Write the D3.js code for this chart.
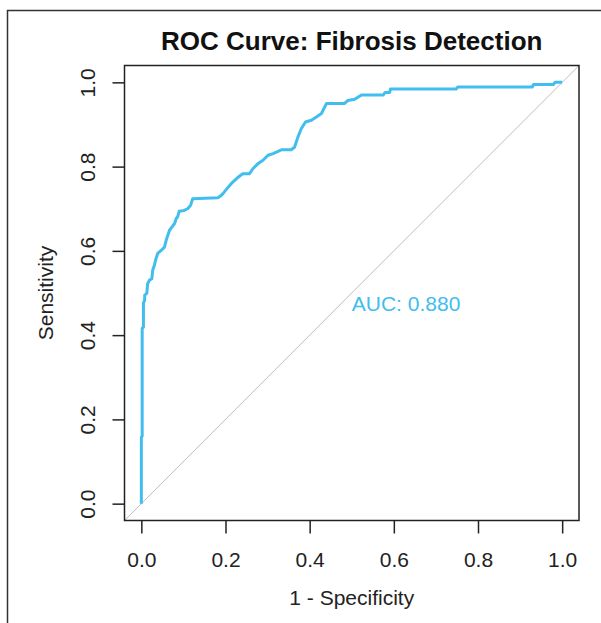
<!DOCTYPE html>
<html>
<head>
<meta charset="utf-8">
<script src="https://cdn.jsdelivr.net/npm/d3@7"></script>
<style>
  html, body { margin: 0; padding: 0; background: #fff; }
  svg { display: block; }
</style>
</head>
<body>
<div id="chart"></div>
<script>
// ROC points (1 - specificity, sensitivity)
const fpr = [0, 0, 0.002, 0.002, 0.005, 0.005, 0.008, 0.008, 0.013, 0.015, 0.019, 0.025,
  0.027, 0.031, 0.035, 0.039, 0.047, 0.055, 0.059, 0.063, 0.067, 0.073, 0.079, 0.083,
  0.086, 0.090, 0.102, 0.110, 0.117, 0.122, 0.182, 0.188, 0.194, 0.202, 0.214, 0.229,
  0.241, 0.257, 0.265, 0.277, 0.289, 0.301, 0.313, 0.325, 0.333, 0.356, 0.364, 0.372,
  0.380, 0.390, 0.404, 0.416, 0.428, 0.440, 0.483, 0.491, 0.507, 0.523, 0.575, 0.579,
  0.590, 0.592, 0.748, 0.752, 0.929, 0.932, 0.979, 0.983, 1.0];
const tpr = [0, 0.158, 0.160, 0.416, 0.419, 0.476, 0.483, 0.495, 0.499, 0.522, 0.530, 0.534,
  0.554, 0.566, 0.582, 0.594, 0.601, 0.609, 0.625, 0.637, 0.649, 0.657, 0.665, 0.677,
  0.680, 0.694, 0.696, 0.700, 0.708, 0.724, 0.726, 0.730, 0.736, 0.746, 0.760, 0.774,
  0.783, 0.783, 0.795, 0.807, 0.815, 0.827, 0.831, 0.836, 0.840, 0.840, 0.846, 0.870,
  0.890, 0.906, 0.910, 0.918, 0.926, 0.950, 0.950, 0.957, 0.960, 0.970, 0.970, 0.976,
  0.976, 0.984, 0.984, 0.989, 0.989, 0.995, 0.995, 1.0, 1.0];

const xTicks = [0, 0.2, 0.4, 0.6, 0.8, 1.0];
const yTicks = [0, 0.2, 0.4, 0.6, 0.8, 1.0];
const aucValue = 0.880;

const titleText = "ROC Curve: Fibrosis Detection";
const xLabel = "1 - Specificity";
const yLabel = "Sensitivity";

const W = 601, H = 623;
const font = "'Liberation Sans', Arial, sans-serif";
const curveColor = "#41bdee";

// plot box (R-style 4% padding around 0..1)
const box = { left: 124.5, right: 579, top: 65.5, bottom: 520.5 };

const svg = d3.select("#chart").append("svg")
  .attr("width", W)
  .attr("height", H)
  .style("font-family", font);

// outer frame, runs off the right/bottom edges
svg.append("rect")
  .attr("x", 7.5).attr("y", 10.5)
  .attr("width", 700).attr("height", 700)
  .attr("fill", "none")
  .attr("stroke", "#333")
  .attr("stroke-width", 1.5);

const x = d3.scaleLinear().domain([-0.04, 1.04]).range([box.left, box.right]);
const y = d3.scaleLinear().domain([-0.04, 1.04]).range([box.bottom, box.top]);

// reference diagonal across the whole box
svg.append("line")
  .attr("x1", x(-0.04)).attr("y1", y(-0.04))
  .attr("x2", x(1.04)).attr("y2", y(1.04))
  .attr("stroke", "#bdbdbd")
  .attr("stroke-width", 1);

// ROC curve
const pts = fpr.map((f, i) => [f, tpr[i]]);
svg.append("path")
  .datum(pts)
  .attr("fill", "none")
  .attr("stroke", curveColor)
  .attr("stroke-width", 3)
  .attr("stroke-linejoin", "round")
  .attr("d", d3.line().x(d => x(d[0])).y(d => y(d[1])));

// box
svg.append("rect")
  .attr("x", box.left).attr("y", box.top)
  .attr("width", box.right - box.left)
  .attr("height", box.bottom - box.top)
  .attr("fill", "none")
  .attr("stroke", "#222")
  .attr("stroke-width", 1.5);

// x axis
const gx = svg.append("g")
  .attr("transform", `translate(0,${box.bottom})`)
  .call(d3.axisBottom(x).tickValues(xTicks).tickSize(13).tickFormat(d3.format(".1f")));
gx.select(".domain").remove();
gx.selectAll(".tick line").attr("stroke", "#222").attr("stroke-width", 1.5);
gx.selectAll(".tick text")
  .attr("y", 46).attr("dy", null)
  .attr("fill", "#222")
  .style("font-size", "21px")
  .style("font-family", font);

// y axis, labels rotated like base R
const gy = svg.append("g")
  .attr("transform", `translate(${box.left},0)`)
  .call(d3.axisLeft(y).tickValues(yTicks).tickSize(12).tickFormat(d3.format(".1f")));
gy.select(".domain").remove();
gy.selectAll(".tick line").attr("stroke", "#222").attr("stroke-width", 1.5);
gy.selectAll(".tick text")
  .attr("x", null).attr("dy", null)
  .attr("transform", "translate(-29.5,0) rotate(-90)")
  .attr("text-anchor", "middle")
  .attr("fill", "#222")
  .style("font-size", "21px")
  .style("font-family", font);

const cx = (box.left + box.right) / 2;
const cy = (box.top + box.bottom) / 2;

// title
svg.append("text")
  .attr("x", cx).attr("y", 50)
  .attr("text-anchor", "middle")
  .attr("font-weight", "bold")
  .attr("font-size", 26)
  .attr("fill", "#111")
  .text(titleText);

// axis titles
svg.append("text")
  .attr("x", cx).attr("y", 605)
  .attr("text-anchor", "middle")
  .attr("font-size", 21)
  .attr("fill", "#222")
  .text(xLabel);

svg.append("text")
  .attr("transform", `translate(53,${cy}) rotate(-90)`)
  .attr("text-anchor", "middle")
  .attr("font-size", 21)
  .attr("fill", "#222")
  .text(yLabel);

// AUC label, top-left anchored at (0.5, 0.5)
svg.append("text")
  .attr("x", x(0.5))
  .attr("y", y(0.5) + 17.5)
  .attr("font-size", 21)
  .attr("fill", curveColor)
  .text("AUC: " + aucValue.toFixed(3));
</script>
</body>
</html>
